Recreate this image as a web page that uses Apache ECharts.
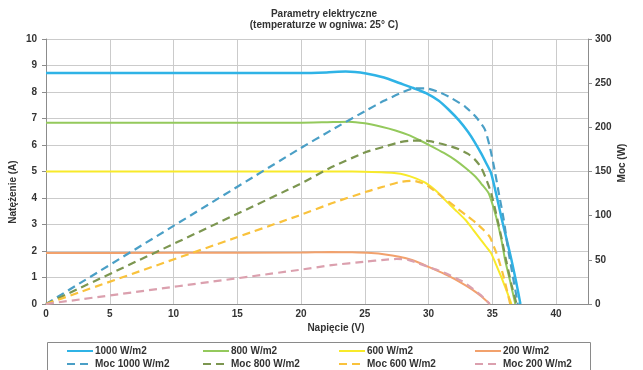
<!DOCTYPE html>
<html>
<head>
<meta charset="utf-8">
<script src="https://cdn.jsdelivr.net/npm/echarts@6/dist/echarts.min.js"></script>
<style>
  html, body { margin: 0; padding: 0; background: #fff; }
  #chart { width: 643px; height: 370px; }
</style>
</head>
<body>
<div id="chart"></div>
<script>
// napięcie (V) / natężenie (A) - krzywe I-V
const v1000 = [0, 10, 20, 22, 23.5, 25.1, 26.5, 27.7, 28.8, 29.8, 30.8, 31.6, 32.4, 33.1, 33.6, 34.1, 34.5, 34.9, 35.3, 35.7, 36.1, 36.5, 36.9, 37.2];
const i1000 = [8.72, 8.72, 8.72, 8.74, 8.77, 8.7, 8.55, 8.34, 8.15, 7.96, 7.67, 7.32, 6.92, 6.49, 6.12, 5.7, 5.33, 4.94, 4.15, 3.28, 2.48, 1.66, 0.75, 0];

const v800 = [0, 10, 19.8, 22, 23.75, 25, 26.3, 27.4, 28.4, 29.3, 30.2, 31.2, 32.1, 32.9, 33.7, 34.2, 34.7, 35, 35.3, 35.7, 36, 36.4, 36.8];
const i800 = [6.84, 6.84, 6.84, 6.86, 6.88, 6.82, 6.69, 6.55, 6.38, 6.18, 5.96, 5.7, 5.43, 5.13, 4.79, 4.5, 4.19, 3.78, 3.28, 2.45, 1.66, 0.85, 0];

const v600 = [0, 10, 20, 24, 26.3, 27.3, 28.2, 29, 29.8, 30.6, 31.3, 32.1, 32.9, 33.5, 34.1, 34.5, 34.9, 35.3, 35.7, 36.1, 36.5];
const i600 = [5.0, 5.0, 5.0, 5.0, 4.97, 4.94, 4.87, 4.74, 4.56, 4.26, 3.92, 3.55, 3.17, 2.8, 2.42, 2.17, 1.92, 1.48, 1.02, 0.52, 0];

const v200 = [0, 10, 20, 22.4, 24, 25.5, 26.6, 27.7, 28.7, 29.4, 30, 30.8, 31.6, 32.6, 33.4, 34.1, 34.8];
const i200 = [1.92, 1.93, 1.94, 1.96, 1.95, 1.92, 1.87, 1.78, 1.66, 1.53, 1.4, 1.23, 1.05, 0.79, 0.55, 0.3, 0];

// napięcie (V) / moc (W)
const pv1000 = [0, 19.8, 22.4, 25.1, 26.5, 27.7, 28.8, 29.8, 30.8, 31.8, 32.9, 33.7, 34.4, 34.8, 35.2, 35.5, 35.9, 36.2, 36.6, 37];
const p1000 = [0, 175, 197, 219, 230, 238, 244, 244, 240, 233, 223, 212, 198, 178, 150, 126, 95, 65, 32, 0];

const pv800 = [0, 19.8, 22.4, 25.1, 26.5, 27.7, 28.7, 29.8, 30.8, 31.6, 32.4, 33.1, 33.6, 34.1, 34.5, 34.9, 35.3, 35.7, 36.1, 36.5, 36.9];
const p800 = [0, 135, 155, 172, 178, 183, 185, 185, 182, 179, 175, 170, 164, 155, 142, 126, 102, 76, 48, 22, 0];

const pv600 = [0, 19.8, 22.4, 25.1, 26.5, 27.7, 28.8, 29.5, 30.2, 31.1, 32.1, 32.9, 33.7, 34.3, 34.8, 35.2, 35.5, 35.9, 36.4];
const p600 = [0, 100, 114, 127, 133, 138, 139.5, 137, 131, 121, 110, 101, 92, 84, 76, 62, 50, 30, 0];

const pv200 = [0, 19.8, 22.4, 25.1, 26.5, 27.5, 28.4, 29.2, 30, 30.8, 31.6, 32.6, 33.4, 34.1, 34.8];
const p200 = [0, 38.5, 44, 48, 50, 51, 50, 46, 42, 38, 33, 26, 18, 10, 0];

const pairs = (xs, ys) => xs.map((x, k) => [x, ys[k]]);

const font = 'Arial, "Liberation Sans", sans-serif';
const txt = '#333';

function solid(name, xs, ys, color, w) {
  return {
    name: name, type: 'line', yAxisIndex: 0,
    data: pairs(xs, ys),
    symbol: 'none', smooth: 0.2,
    lineStyle: { color: color, width: w || 2 },
    itemStyle: { color: color },
  };
}

function dashed(name, xs, ys, color) {
  return {
    name: name, type: 'line', yAxisIndex: 1,
    data: pairs(xs, ys),
    symbol: 'none', smooth: 0.2,
    lineStyle: { color: color, width: 2.2, type: [8, 5] },
    itemStyle: { color: color },
  };
}

function legendCol(left, names) {
  return {
    orient: 'vertical', left: left, top: 346, padding: 0,
    itemWidth: 26, itemHeight: 10, itemGap: 3,
    itemStyle: { opacity: 0 },
    textStyle: { fontFamily: font, fontSize: 10, fontWeight: 'bold', color: txt, padding: [0, 0, 0, -3] },
    data: names,
  };
}

const myChart = echarts.init(document.getElementById('chart'));

const option = {
  animation: false,
  backgroundColor: '#fff',
  title: {
    text: 'Parametry elektryczne\n(temperaturze w ogniwa: 25° C)',
    left: 324, top: 9, padding: 0, textAlign: 'center',
    textStyle: { fontFamily: font, fontSize: 10, fontWeight: 'bold', color: txt, lineHeight: 11 },
  },
  grid: { left: 46, right: 55, top: 39, bottom: 66 },
  legend: [
    legendCol(66, ['1000 W/m2', 'Moc 1000 W/m2']),
    legendCol(202, ['800 W/m2', 'Moc 800 W/m2']),
    legendCol(338, ['600 W/m2', 'Moc 600 W/m2']),
    legendCol(474, ['200 W/m2', 'Moc 200 W/m2']),
  ],
  graphic: [
    {
      type: 'rect', z: -1,
      shape: { x: 47.5, y: 342.5, width: 543, height: 40 },
      style: { fill: '#fff', stroke: '#8a8a8a', lineWidth: 1 },
    },
    {
      type: 'text', x: 13, y: 192, rotation: Math.PI / 2,
      style: { text: 'Natężenie (A)', font: 'bold 10px ' + font, fill: txt, textAlign: 'center', textVerticalAlign: 'middle' },
    },
    {
      type: 'text', x: 622, y: 163, rotation: Math.PI / 2,
      style: { text: 'Moc (W)', font: 'bold 10px ' + font, fill: txt, textAlign: 'center', textVerticalAlign: 'middle' },
    },
    {
      type: 'text', x: 336, y: 328,
      style: { text: 'Napięcie (V)', font: 'bold 10px ' + font, fill: txt, textAlign: 'center', textVerticalAlign: 'middle' },
    },
  ],
  xAxis: {
    type: 'value', min: 0, max: 42.5, interval: 5,
    axisLine: { show: true, lineStyle: { color: '#8c8c8c', width: 1 } },
    axisTick: { show: false },
    axisLabel: {
      margin: 5, fontFamily: font, fontSize: 10, fontWeight: 'bold', color: txt,
      formatter: (v) => (v % 5 === 0 ? String(v) : ''),
    },
    splitLine: { show: true, lineStyle: { color: '#cbcbcb', width: 1 } },
  },
  yAxis: [
    {
      type: 'value', min: 0, max: 10, interval: 1,
      axisLine: { show: true, lineStyle: { color: '#8c8c8c', width: 1 } },
      axisTick: { show: true, length: 4, lineStyle: { color: '#8c8c8c' } },
      axisLabel: { margin: 9, fontFamily: font, fontSize: 10, fontWeight: 'bold', color: txt },
      splitLine: { show: true, lineStyle: { color: '#cbcbcb', width: 1 } },
    },
    {
      type: 'value', min: 0, max: 300, interval: 50, position: 'right',
      axisLine: { show: true, lineStyle: { color: '#8c8c8c', width: 1 } },
      axisTick: { show: true, length: 4, lineStyle: { color: '#8c8c8c' } },
      axisLabel: { margin: 7, fontFamily: font, fontSize: 10, fontWeight: 'bold', color: txt },
      splitLine: { show: false },
    },
  ],
  series: [
    solid('1000 W/m2', v1000, i1000, '#2fb3e6', 2.5),
    solid('800 W/m2', v800, i800, '#94c95c'),
    solid('600 W/m2', v600, i600, '#f8ea2a'),
    solid('200 W/m2', v200, i200, '#f2a16c'),
    dashed('Moc 1000 W/m2', pv1000, p1000, '#4a9fc6'),
    dashed('Moc 800 W/m2', pv800, p800, '#7c9650'),
    dashed('Moc 600 W/m2', pv600, p600, '#f9c23c'),
    dashed('Moc 200 W/m2', pv200, p200, '#dba0ae'),
  ],
};

myChart.setOption(option);
</script>
</body>
</html>
